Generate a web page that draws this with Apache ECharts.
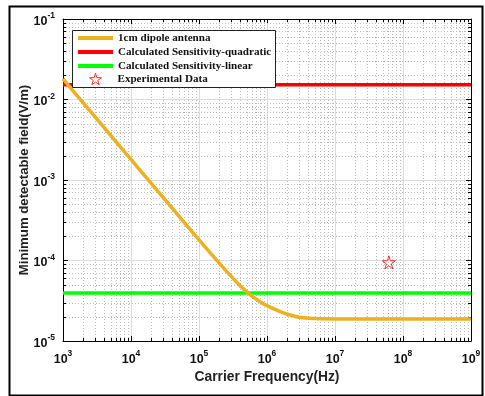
<!DOCTYPE html>
<html>
<head>
<meta charset="utf-8">
<script src="https://cdn.jsdelivr.net/npm/echarts@6.0.0/dist/echarts.min.js"></script>
<style>
  html, body { margin: 0; padding: 0; background: #fff; }
  #chart { width: 485px; height: 396px; }
</style>
</head>
<body>
<div id="chart"></div>
<script>
// data
const antennaFreq = [1e3, 2e3, 5e3, 1e4, 2e4, 5e4, 1e5, 2e5, 3e5, 4e5, 5e5, 6e5, 7e5, 8e5, 1e6, 1.5e6, 2e6, 3e6, 5e6, 1e7, 1e8, 1e9];
const antennaField = [0.018, 0.009, 0.0036, 0.0018, 9e-4, 3.6e-4, 1.8e-4, 9.2e-5, 6.3e-5, 4.9e-5, 4.1e-5, 3.6e-5, 3.3e-5, 3.05e-5, 2.75e-5, 2.35e-5, 2.15e-5, 1.97e-5, 1.9e-5, 1.88e-5, 1.88e-5, 1.88e-5];
const quadFreq = [1e3, 1e9];
const quadField = [0.0153, 0.0153];
const linFreq = [1e3, 1e9];
const linField = [3.95e-5, 3.95e-5];
const expFreq = [6.2e7];
const expField = [9.5e-5];

const seriesNames = ['1cm dipole antenna', 'Calculated Sensitivity-quadratic', 'Calculated Sensitivity-linear', 'Experimental Data'];

const xMin = 1e3, xMax = 1e9;
const yMin = 1e-5, yMax = 1e-1;

// minor grid positions (2..9 in each decade)
const minorX = [];
for (let e = 3; e < 9; e++) for (let k = 2; k <= 9; k++) minorX.push(k * Math.pow(10, e));
const minorY = [];
for (let e = -5; e < -1; e++) for (let k = 2; k <= 9; k++) minorY.push(k * Math.pow(10, e));

const star = 'path://M50,0 L61,35 L98,35 L68,57 L79,91 L50,70 L21,91 L32,57 L2,35 L39,35 Z';

const pair = (xs, ys) => xs.map((x, i) => [x, ys[i]]);

function powLabel(v) {
  const e = Math.round(Math.log10(v));
  return '{b|10}{s|' + e + '}';
}
const labelRich = {
  b: { fontFamily: 'Liberation Sans', fontWeight: 'bold', fontSize: 12.5, color: '#111', padding: [5, 0, 0, 0] },
  s: { fontFamily: 'Liberation Sans', fontWeight: 'bold', fontSize: 8.5, color: '#111', padding: [0, 0, 6, 0] }
};
const titleStyle = { fontFamily: 'Liberation Sans', fontWeight: 'bold', fontSize: 13.8, color: '#222' };

const chart = echarts.init(document.getElementById('chart'), null, { renderer: 'canvas' });

const axisCommon = {
  type: 'log',
  logBase: 10,
  axisLine: { lineStyle: { color: '#000', width: 1 } },
  axisTick: { inside: true, length: 5, lineStyle: { color: '#000' } },
  minorTick: { show: false },
  minorSplitLine: { show: false }
};

const option = {
  animation: false,
  backgroundColor: '#fff',
  grid: { left: 63, right: 14, top: 19, bottom: 55 },
  xAxis: [
    Object.assign({}, axisCommon, {
      min: xMin, max: xMax, splitNumber: 6, position: 'bottom',
      name: 'Carrier Frequency(Hz)', nameLocation: 'middle', nameGap: 29,
      nameMoveOverlap: false,
      nameTextStyle: titleStyle,
      axisLabel: { margin: 7, formatter: powLabel, rich: labelRich },
      splitLine: { show: true, lineStyle: { color: '#dcdcdc', width: 1 } }
    }),
    Object.assign({}, axisCommon, {
      min: xMin, max: xMax, splitNumber: 6, position: 'top',
      axisLabel: { show: false }, splitLine: { show: false }
    })
  ],
  yAxis: [
    Object.assign({}, axisCommon, {
      min: yMin, max: yMax, splitNumber: 4, position: 'left',
      name: 'Minimum detectable field(V/m)', nameLocation: 'middle', nameGap: 32,
      nameMoveOverlap: false,
      nameTextStyle: Object.assign({}, titleStyle, { fontSize: 13.2 }),
      axisLabel: { margin: 8, formatter: powLabel, rich: labelRich },
      splitLine: { show: true, lineStyle: { color: '#dcdcdc', width: 1 } }
    }),
    Object.assign({}, axisCommon, {
      min: yMin, max: yMax, splitNumber: 4, position: 'right',
      axisLabel: { show: false }, splitLine: { show: false }
    })
  ],
  graphic: [
    { type: 'rect', left: 7, top: 4, z: 0, shape: { width: 473, height: 389 },
      style: { fill: 'none', stroke: '#000', lineWidth: 2 } },
    { type: 'rect', left: 72, top: 30, z: 50, shape: { width: 203, height: 57 },
      style: { fill: '#fff', stroke: '#222', lineWidth: 1 } }
  ],
  legend: [
    {
      data: seriesNames.slice(0, 3), orient: 'vertical', left: 78, top: 31, padding: 0,
      icon: 'rect', itemWidth: 35, itemHeight: 4, itemGap: 0, z: 60,
      selectedMode: false,
      textStyle: { fontFamily: 'Liberation Serif', fontWeight: 'bold', fontSize: 11.1, color: '#111', lineHeight: 14 }
    },
    {
      data: [{ name: seriesNames[3], icon: star }], orient: 'vertical', left: 89, top: 72, padding: 0,
      itemWidth: 12, itemHeight: 12, z: 60, selectedMode: false,
      itemStyle: { color: 'rgba(0,0,0,0)', borderColor: '#ff0000', borderWidth: 1 },
      textStyle: { fontFamily: 'Liberation Serif', fontWeight: 'bold', fontSize: 11.1, color: '#111', lineHeight: 14, padding: [0, 0, 0, 11] }
    }
  ],
  series: [
    {
      // minor dotted grid and minor ticks
      type: 'custom', silent: true, z: 1,
      data: [[xMin, yMin]],
      renderItem: function (params, api) {
        const cs = params.coordSys;
        const kids = [];
        minorX.forEach(function (v) {
          const px = Math.round(api.coord([v, yMin])[0]) + 0.5;
          kids.push({ type: 'line', shape: { x1: px, y1: cs.y, x2: px, y2: cs.y + cs.height },
            style: { stroke: '#bdbdbd', lineWidth: 1, lineDash: [1, 2] } });
          kids.push({ type: 'line', shape: { x1: px, y1: cs.y + cs.height, x2: px, y2: cs.y + cs.height - 3 },
            style: { stroke: '#000', lineWidth: 1 } });
          kids.push({ type: 'line', shape: { x1: px, y1: cs.y, x2: px, y2: cs.y + 3 },
            style: { stroke: '#000', lineWidth: 1 } });
        });
        minorY.forEach(function (v) {
          const py = Math.round(api.coord([xMin, v])[1]) + 0.5;
          kids.push({ type: 'line', shape: { x1: cs.x, y1: py, x2: cs.x + cs.width, y2: py },
            style: { stroke: '#bdbdbd', lineWidth: 1, lineDash: [1, 2] } });
          kids.push({ type: 'line', shape: { x1: cs.x, y1: py, x2: cs.x + 3, y2: py },
            style: { stroke: '#000', lineWidth: 1 } });
          kids.push({ type: 'line', shape: { x1: cs.x + cs.width, y1: py, x2: cs.x + cs.width - 3, y2: py },
            style: { stroke: '#000', lineWidth: 1 } });
        });
        return { type: 'group', children: kids };
      }
    },
    {
      name: seriesNames[0], type: 'line', z: 4, showSymbol: false, smooth: 0.2,
      data: pair(antennaFreq, antennaField),
      itemStyle: { color: '#EDB120' }, lineStyle: { color: '#EDB120', width: 3.5 }
    },
    {
      name: seriesNames[1], type: 'line', z: 3, showSymbol: false,
      data: pair(quadFreq, quadField),
      itemStyle: { color: '#ff0000' }, lineStyle: { color: '#ff0000', width: 3.5 }
    },
    {
      name: seriesNames[2], type: 'line', z: 3, showSymbol: false,
      data: pair(linFreq, linField),
      itemStyle: { color: '#00ff00' }, lineStyle: { color: '#00ff00', width: 3.5 }
    },
    {
      name: seriesNames[3], type: 'scatter', z: 5, symbol: star, symbolSize: 13,
      data: pair(expFreq, expField),
      itemStyle: { color: 'rgba(0,0,0,0)', borderColor: '#ff0000', borderWidth: 1 }
    }
  ]
};

chart.setOption(option);
</script>
</body>
</html>
